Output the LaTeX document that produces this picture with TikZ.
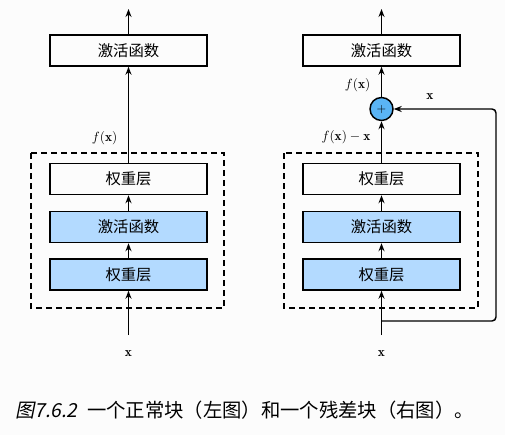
\documentclass[tikz,border=0pt]{standalone}
\usepackage{fontspec}
\usepackage{amsmath}
\newfontfamily\cjk{Noto Sans CJK SC}
\newfontfamily\cjkslant[FakeSlant=0.2]{Noto Sans CJK SC}
\usetikzlibrary{arrows.meta}
\definecolor{bggray}{HTML}{FCFCFC}
\definecolor{boxblue}{HTML}{B3DAFF}
\definecolor{plusblue}{HTML}{5AB4F5}
\newdimen\unitsize
\setlength{\unitsize}{0.75pt}

\begin{document}
\begin{tikzpicture}[x=\unitsize,y=-\unitsize,>={Stealth[length=6pt,width=4.5pt]}]
\tikzset{layer/.style={draw,line width=1.1pt,minimum width=117.75pt,minimum height=23.25pt,inner sep=0pt,font=\cjk\fontsize{11.5}{13}\selectfont}}%
\tikzset{layerblue/.style={layer,fill=boxblue}}%
\tikzset{edge/.style={->,line width=1.1pt}}%
\tikzset{dashbox/.style={line width=1.1pt,dash pattern=on 4.5pt off 3pt}}%
\fill[bggray] (0,0) rectangle (505,435);
% left: plain block
\draw[dashbox] (31,153) rectangle (224,308);
\node[layer] (actL) at (128.5,50.5) {激活函数};
\node[layer] (wtopL) at (128.5,179) {权重层};
\node[layerblue] (actinL) at (128.5,227) {激活函数};
\node[layerblue] (wbotL) at (128.5,274.5) {权重层};
\coordinate (outL) at (128.5,9);
\coordinate (inL) at (128.5,335);
\draw[edge] (actL) -- (outL);
\draw[edge] (wtopL) -- (actL);
\draw[edge] (actinL) -- (wtopL);
\draw[edge] (wbotL) -- (actinL);
\draw[edge] (inL) -- (wbotL);
\node[anchor=east] (fxL) at (122,138) {$f(\mathbf{x})$};
\node (xL) at (128.5,354) {$\mathbf{x}$};
% right: residual block
\draw[dashbox] (284,153) rectangle (478,308);
\node[layer] (actR) at (381.5,50.5) {激活函数};
\node[draw,circle,fill=plusblue,line width=1.1pt,minimum size=17.25pt,inner sep=0pt,font=\small] (plus) at (381.5,109) {$+$};
\node[layer] (wtopR) at (381.5,179) {权重层};
\node[layerblue] (actinR) at (381.5,227) {激活函数};
\node[layerblue] (wbotR) at (381.5,274.5) {权重层};
\coordinate (outR) at (381.5,9);
\coordinate (inR) at (381.5,335);
\coordinate (split) at (381.5,321);
\coordinate (corner) at (496,109);
\draw[edge] (actR) -- (outR);
\draw[edge] (plus) -- (actR);
\draw[edge] (wtopR) -- (plus);
\draw[edge] (actinR) -- (wtopR);
\draw[edge] (wbotR) -- (actinR);
\draw[edge] (inR) -- (wbotR);
\draw[edge,rounded corners=3pt] (split) -| (corner) -- (plus);
\node[anchor=east] (fxR) at (375,85) {$f(\mathbf{x})$};
\node[anchor=east] (fxxR) at (375,137) {$f(\mathbf{x})-\mathbf{x}$};
\node (skipx) at (430,97) {$\mathbf{x}$};
\node (xR) at (381.5,354) {$\mathbf{x}$};
% caption
\node[anchor=west,inner sep=0pt,font=\cjk\fontsize{14.5}{16}\selectfont] (cap) at (15,410) {{\cjkslant 图7.6.2}\hspace{0.5em}一个正常块（左图）和一个残差块（右图）。};
\end{tikzpicture}
\end{document}
